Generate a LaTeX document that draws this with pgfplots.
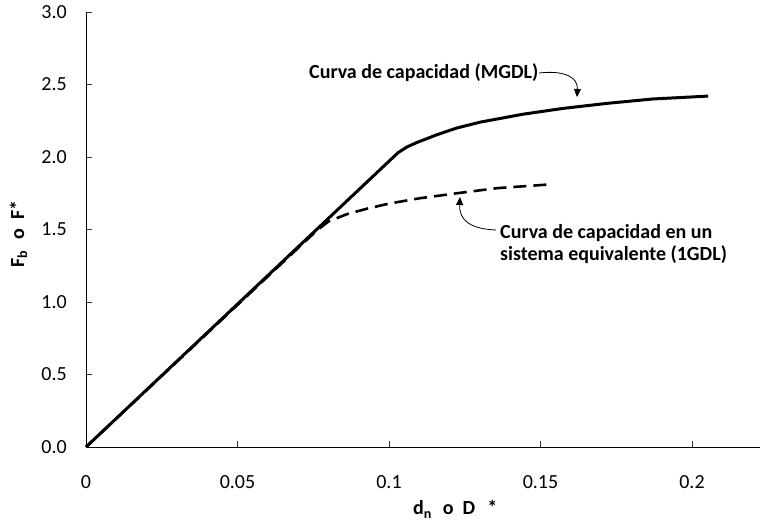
\documentclass[border=0pt]{standalone}
\usepackage{fontspec}
\setmainfont{Carlito}
\usepackage{pgfplots}
\pgfplotsset{compat=1.18}
\usetikzlibrary{arrows.meta}
\begin{document}
\fontsize{20bp}{24bp}\selectfont
\begin{tikzpicture}[font=\fontsize{20bp}{24bp}\selectfont]
\useasboundingbox (0,0) rectangle (760bp,525bp);
\begin{axis}[
  at={(86bp,78bp)}, anchor=south west,
  scale only axis, width=674bp, height=435bp,
  xmin=0, xmax=0.22244, ymin=0, ymax=3,
  axis x line=bottom, axis y line=left,
  axis line style={-, line width=1bp, black},
  xtick={0,0.05,0.1,0.15,0.2}, xticklabels={0,0.05,0.1,0.15,0.2},
  ytick={0,0.5,1,1.5,2,2.5,3}, yticklabels={0.0,0.5,1.0,1.5,2.0,2.5,3.0},
  tick align=inside, major tick length=6bp,
  tick style={line width=0.8bp, black!80},
  xticklabel style={anchor=base, inner sep=0pt, yshift=-41bp},
  yticklabel style={anchor=east, inner sep=0pt, xshift=-19bp},
  clip=false,
]
\addplot[black, line width=2.6bp, dash pattern=on 13bp off 7bp] coordinates {
(0,0) (0.076,1.49) (0.080,1.555) (0.086,1.605) (0.093,1.645) (0.1003,1.68)
(0.110,1.715) (0.1224,1.75) (0.1356,1.785) (0.1525,1.81)};
\addplot[black, line width=3bp, line join=round] coordinates {
(0,0) (0.1030,2.03) (0.1060,2.07) (0.1092,2.10) (0.1160,2.155) (0.1224,2.20) (0.130,2.24)
(0.1442,2.295) (0.1574,2.335) (0.172,2.37) (0.187,2.40) (0.2053,2.42)};
\end{axis}
\begin{scope}[x=1bp,y=-1bp,yshift=525bp]
\node[anchor=base west, inner sep=0pt, font=\fontsize{20bp}{24bp}\selectfont\bfseries] at (309,79) {Curva de capacidad (MGDL)};
\draw[-{Triangle[length=8bp,width=7bp]}, line width=0.8bp] (539,73) .. controls (566,70) and (578,78) .. (577,97);
\node[anchor=base west, inner sep=0pt, font=\fontsize{20bp}{24bp}\selectfont\bfseries] at (500,239) {Curva de capacidad en un};
\node[anchor=base west, inner sep=0pt, font=\fontsize{20bp}{24bp}\selectfont\bfseries] at (500,261) {sistema equivalente (1GDL)};
\draw[-{Triangle[length=8bp,width=7bp]}, line width=0.8bp] (496,230) .. controls (470,229) and (459,220) .. (460,197);
\node[anchor=base west, inner sep=0pt, font=\fontsize{20bp}{24bp}\selectfont\bfseries] at (413,515) {d\textsubscript{n}\hspace{11bp}o\hspace{9bp}D\hspace{12bp}*};
\node[rotate=90, anchor=base west, inner sep=0pt, font=\fontsize{20bp}{24bp}\selectfont\bfseries] at (24,268) {F\textsubscript{b}\hspace{11bp}o\hspace{9bp}F*};
\end{scope}
\end{tikzpicture}
\end{document}
